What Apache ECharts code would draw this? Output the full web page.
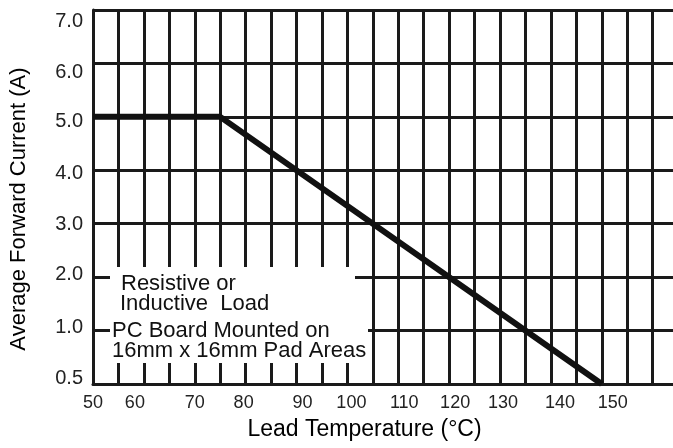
<!DOCTYPE html>
<html>
<head>
<meta charset="utf-8">
<script src="https://cdn.jsdelivr.net/npm/echarts@6/dist/echarts.min.js"></script>
<style>
  html, body { margin: 0; padding: 0; background: #fff; }
  #main { width: 673px; height: 448px; }
</style>
</head>
<body>
<div id="main"></div>
<script>
// derating curve
var tempPoints = [50, 75, 150];
var currentPoints = [5, 5, 0];
var xTickLabels = ['50', '60', '70', '80', '90', '100', '110', '120', '130', '140', '150'];
var yTickLabels = ['0.5', '1.0', '2.0', '3.0', '4.0', '5.0', '6.0', '7.0'];
var noteLines = ['Resistive or', 'Inductive  Load', 'PC Board Mounted on', '16mm x 16mm Pad Areas'];

var font = "'Liberation Sans', Arial, sans-serif";
var ink = '#1a1a1a';

// the printed tick labels sit a little off their grid lines
var xNudge = [0, -9, 0, -2, 6, 4, 6, 6, 3, 9, 11];
var yNudge = [-6, -3, -3, 1, 3, 5, 9, 11];

var xRich = {}, yRich = {};
xNudge.forEach(function (d, i) {
  xRich['x' + i] = { fontFamily: font, fontSize: 18, color: '#222',
    padding: d >= 0 ? [0, 0, 0, 2 * d] : [0, -2 * d, 0, 0] };
});
yNudge.forEach(function (d, i) {
  yRich['y' + i] = { fontFamily: font, fontSize: 20, color: '#222',
    padding: d >= 0 ? [2 * d, 0, 0, 0] : [0, 0, -2 * d, 0] };
});

var chart = echarts.init(document.getElementById('main'));
chart.setOption({
  animation: false,
  grid: { left: 93, right: 0, top: 10, bottom: 64 },
  xAxis: {
    type: 'value',
    min: 50,
    max: 164,
    interval: 5,
    name: 'Lead Temperature (°C)',
    nameLocation: 'middle',
    nameGap: 34,
    nameTextStyle: { fontFamily: font, fontSize: 23, color: '#000', padding: [0, 37, 0, 0] },
    axisLine: { show: true, lineStyle: { color: ink, width: 3 } },
    axisTick: { show: false },
    axisLabel: {
      margin: 10, showMaxLabel: false,
      rich: xRich,
      formatter: function (v) {
        var i = (v - 50) / 10;
        return (i === Math.round(i) && xTickLabels[i]) ? '{x' + i + '|' + xTickLabels[i] + '}' : '';
      }
    },
    splitLine: { show: true, showMaxLine: false, lineStyle: { color: ink, width: 3 } }
  },
  yAxis: {
    type: 'value',
    min: 0,
    max: 7,
    interval: 1,
    name: 'Average Forward Current (A)',
    nameLocation: 'middle',
    nameGap: 63,
    nameTextStyle: { fontFamily: font, fontSize: 22, color: '#000', padding: [0, 24, 0, 0] },
    axisLine: { show: true, lineStyle: { color: ink, width: 3 } },
    axisTick: { show: false },
    axisLabel: {
      margin: 10,
      rich: yRich,
      formatter: function (v) { return '{y' + v + '|' + yTickLabels[v] + '}'; }
    },
    splitLine: { show: true, lineStyle: { color: ink, width: 3 } }
  },
  graphic: [
    { type: 'rect', shape: { x: 110, y: 267, width: 245, height: 24 }, style: { fill: '#fff' }, z: 10 },
    { type: 'rect', shape: { x: 110, y: 290, width: 258, height: 73 }, style: { fill: '#fff' }, z: 10 },
    { type: 'text', x: 121, y: 284, z: 11, style: { text: noteLines[0], font: '22px ' + font, fill: '#111', verticalAlign: 'middle' } },
    { type: 'text', x: 120, y: 304, z: 11, style: { text: noteLines[1], font: '22px ' + font, fill: '#111', verticalAlign: 'middle' } },
    { type: 'text', x: 112, y: 331, z: 11, style: { text: noteLines[2], font: '22px ' + font, fill: '#111', verticalAlign: 'middle' } },
    { type: 'text', x: 112, y: 351, z: 11, style: { text: noteLines[3], font: '22px ' + font, fill: '#111', verticalAlign: 'middle' } }
  ],
  series: [{
    type: 'line',
    data: tempPoints.map(function (t, i) { return [t, currentPoints[i]]; }),
    symbol: 'none',
    lineStyle: { color: '#111', width: 6 }
  }]
});
</script>
</body>
</html>
